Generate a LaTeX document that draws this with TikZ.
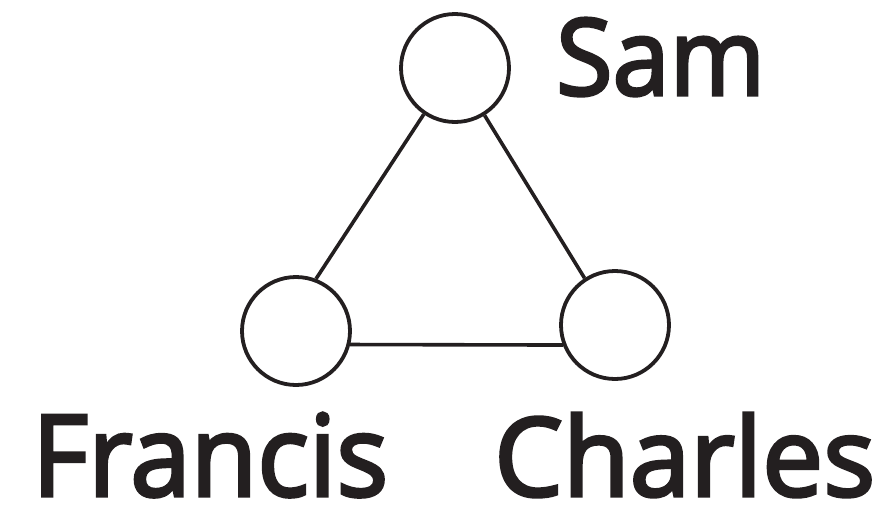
\documentclass[tikz,border=0pt]{standalone}
\usepackage{fontspec}
\newfontfamily\labelfont{Open Sans}[FakeBold=3]
\usepackage{graphicx}
\definecolor{ink}{RGB}{35,31,32}
\begin{document}
\begin{tikzpicture}[x=1pt,y=-1pt,
  person/.style={circle,draw=ink,line width=3.8pt,minimum size=108pt,inner sep=0pt},
  link/.style={draw=ink,line width=3.6pt},
  label/.style={inner sep=0pt,text=ink,anchor=base west,font=\labelfont\fontsize{100}{100}\selectfont}]
\useasboundingbox (0,0) rectangle (892,509);
\node[person] (sam) at (455,68) {};
\node[person] (francis) at (296,331) {};
\node[person] (charles) at (615,325) {};
\draw[link] (sam.236) -- (francis.69);
\draw[link] (sam.302) -- (charles.123.4);
\draw[link] (francis.-14.5) -- (charles.201);
\node[label] (samtext) at (556,95) {\resizebox{209pt}{77pt}{Sam}};
\node[label] (francistext) at (32,496) {\resizebox{356pt}{83pt}{Francis}};
\node[label] (charlestext) at (494,496) {\resizebox{381pt}{83pt}{Charles}};
\end{tikzpicture}
\end{document}
